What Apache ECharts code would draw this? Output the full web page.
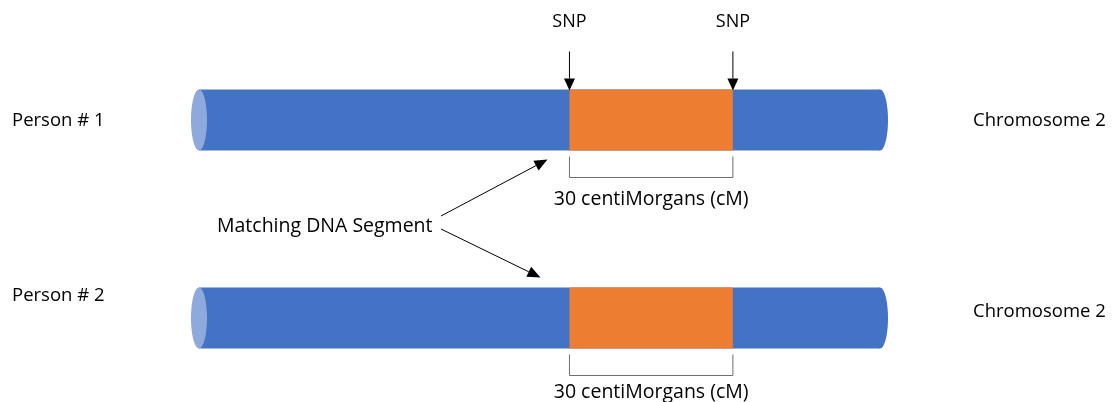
<!DOCTYPE html>
<html>
<head>
<meta charset="utf-8">
<script src="https://cdn.jsdelivr.net/npm/echarts@6/dist/echarts.min.js"></script>
<style>
html,body{margin:0;padding:0;background:#fff;}
#chart{width:1112px;height:402px;}
</style>
</head>
<body>
<div id="chart"></div>
<script>
// ---- data ----
const persons = ['Person # 1', 'Person # 2'];
const chromosomeNames = ['Chromosome 2', 'Chromosome 2'];
const chromosomeLength = [125, 125];      // cM
const segmentStart = [68, 68];            // cM
const segmentEnd = [98, 98];              // cM
const segmentLabels = ['30 centiMorgans (cM)', '30 centiMorgans (cM)'];
const markerLabels = ['SNP', 'SNP'];
const annotationText = 'Matching DNA Segment';

// ---- styles ----
const FONT = '"Open Sans", sans-serif';
const FS = 18.5;
const FS_BIG = 19.5;
const FS_SNP = 18;
const BLUE = '#4472C4';
const CAP = '#8EA9DB';
const ORANGE = '#ED7D31';
const TXT = '#000000';
const BAR_H = 61;
const CAP_RX = 8;
const personOffset = [1, -22];
const chromOffset = [1, -6];
const cmLabelOffset = [49, 44];

function arrow(x1, y1, x2, y2, headLen, headHalf) {
  const dx = x2 - x1, dy = y2 - y1;
  const L = Math.sqrt(dx * dx + dy * dy);
  const ux = dx / L, uy = dy / L;
  const bx = x2 - ux * headLen, by = y2 - uy * headLen;
  return [
    { type: 'line', shape: { x1: x1, y1: y1, x2: bx, y2: by }, style: { stroke: '#000', lineWidth: 1 } },
    { type: 'polygon', shape: { points: [[x2, y2], [bx - uy * headHalf, by + ux * headHalf], [bx + uy * headHalf, by - ux * headHalf]] }, style: { fill: '#000' } }
  ];
}

const rowData = persons.map((p, i) => [i, chromosomeLength[i], segmentStart[i], segmentEnd[i]]);

const chart = echarts.init(document.getElementById('chart'), null, { renderer: 'canvas' });
chart.setOption({
  animation: false,
  backgroundColor: '#ffffff',
  grid: { left: 199, right: 232, top: 120, bottom: 84 },
  xAxis: { type: 'value', min: 0, max: 125, show: false },
  yAxis: { type: 'category', data: persons, inverse: true, boundaryGap: false, show: false },
  series: [
    {
      type: 'custom',
      data: rowData,
      renderItem: function (params, api) {
        const i = api.value(0);
        const p0 = api.coord([0, i]);
        const p1 = api.coord([api.value(1), i]);
        const s = api.coord([api.value(2), i]);
        const e = api.coord([api.value(3), i]);
        const cy = p0[1];
        const top = cy - BAR_H / 2, bot = cy + BAR_H / 2;
        const children = [
          { type: 'ellipse', shape: { cx: p1[0], cy: cy, rx: CAP_RX, ry: BAR_H / 2 }, style: { fill: BLUE } },
          { type: 'rect', shape: { x: p0[0], y: top, width: p1[0] - p0[0], height: BAR_H }, style: { fill: BLUE } },
          { type: 'ellipse', shape: { cx: p0[0], cy: cy, rx: CAP_RX, ry: BAR_H / 2 }, style: { fill: CAP } },
          { type: 'rect', shape: { x: s[0], y: top, width: e[0] - s[0], height: BAR_H }, style: { fill: ORANGE } },
          { type: 'polyline', shape: { points: [[s[0], bot + 6], [s[0], bot + 27], [e[0], bot + 27], [e[0], bot + 6]] }, style: { stroke: '#6F6F6F', lineWidth: 1, fill: null } },
          { type: 'text', style: { text: segmentLabels[i], x: (s[0] + e[0]) / 2, y: bot + cmLabelOffset[i], align: 'center', verticalAlign: 'middle', font: FS_BIG + 'px ' + FONT, fill: TXT } },
          { type: 'text', style: { text: persons[i], x: 12, y: cy + personOffset[i], align: 'left', verticalAlign: 'middle', font: FS + 'px ' + FONT, fill: TXT } },
          { type: 'text', style: { text: chromosomeNames[i], x: 973, y: cy + chromOffset[i], align: 'left', verticalAlign: 'middle', font: FS + 'px ' + FONT, fill: TXT } }
        ];
        if (i === 0) {
          [s[0], e[0]].forEach(function (x, k) {
            children.push({ type: 'text', style: { text: markerLabels[k], x: x, y: top - 68, align: 'center', verticalAlign: 'middle', font: FS_SNP + 'px ' + FONT, fill: TXT } });
            arrow(x, top - 38, x, top + 1, 12, 5.5).forEach(function (c) { children.push(c); });
          });
        }
        return { type: 'group', children: children };
      }
    },
    {
      type: 'custom',
      data: [[segmentStart[0], segmentStart[1]]],
      renderItem: function (params, api) {
        const a = api.coord([api.value(0), 0]);
        const b = api.coord([api.value(1), 1]);
        const tx = 217, ty = (a[1] + b[1]) / 2 + 7;
        const children = [
          { type: 'text', style: { text: annotationText, x: tx, y: ty, align: 'left', verticalAlign: 'middle', font: FS_BIG + 'px ' + FONT, fill: TXT } }
        ];
        arrow(441, ty - 10, a[0] - 22, a[1] + BAR_H / 2 + 9, 13, 5.5).forEach(function (c) { children.push(c); });
        arrow(441, ty + 3, b[0] - 29, b[1] - BAR_H / 2 - 10, 13, 5.5).forEach(function (c) { children.push(c); });
        return { type: 'group', children: children };
      }
    }
  ]
});
</script>
</body>
</html>
